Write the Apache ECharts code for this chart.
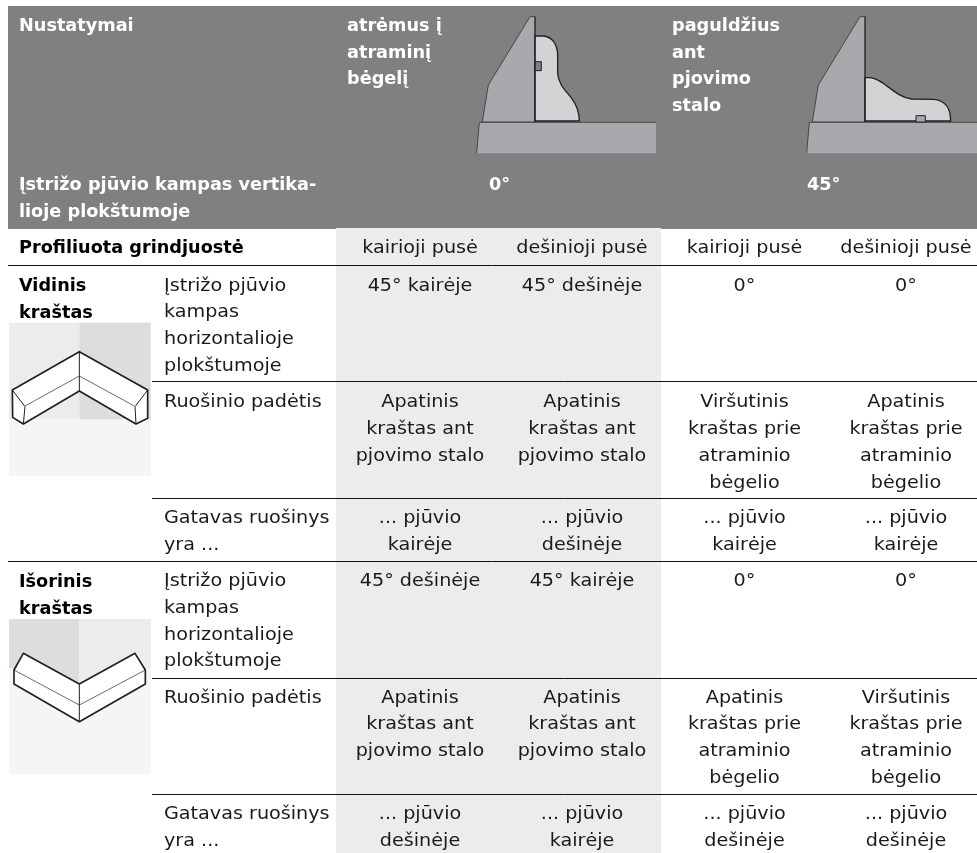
<!DOCTYPE html>
<html><head><meta charset="utf-8">
<style>html,body{margin:0;padding:0;background:#fff}#c{width:977px;height:853px}</style>
<script src="https://cdn.jsdelivr.net/npm/echarts@6/dist/echarts.min.js"></script>
</head><body><div id="c"></div>
<script>
// ---- table content ----
const headerTitle = 'Nustatymai';
const headerAngleLabel = 'Įstrižo pjūvio kampas vertika-\nlioje plokštumoje';
const headerModes = ['atrėmus į\natraminį\nbėgelį', 'paguldžius\nant\npjovimo\nstalo'];
const headerAngles = ['0°', '45°'];
const sideHeading = 'Profiliuota grindjuostė';
const sideNames = ['kairioji pusė', 'dešinioji pusė', 'kairioji pusė', 'dešinioji pusė'];
const edgeNames = ['Vidinis\nkraštas', 'Išorinis\nkraštas'];
const rowNames = ['Įstrižo pjūvio\nkampas\nhorizontalioje\nplokštumoje', 'Ruošinio padėtis', 'Gatavas ruošinys\nyra ...'];
const APT = 'Apatinis\nkraštas ant\npjovimo stalo';
const innerAngle = ['45° kairėje', '45° dešinėje', '0°', '0°'];
const innerPosition = [APT, APT, 'Viršutinis\nkraštas prie\natraminio\nbėgelio', 'Apatinis\nkraštas prie\natraminio\nbėgelio'];
const innerResult = ['... pjūvio\nkairėje', '... pjūvio\ndešinėje', '... pjūvio\nkairėje', '... pjūvio\nkairėje'];
const outerAngle = ['45° dešinėje', '45° kairėje', '0°', '0°'];
const outerPosition = [APT, APT, 'Apatinis\nkraštas prie\natraminio\nbėgelio', 'Viršutinis\nkraštas prie\natraminio\nbėgelio'];
const outerResult = ['... pjūvio\ndešinėje', '... pjūvio\nkairėje', '... pjūvio\ndešinėje', '... pjūvio\ndešinėje'];
const bodyRows = [innerAngle, innerPosition, innerResult, outerAngle, outerPosition, outerResult];

// ---- layout (separate from content) ----
const FONT = '"DejaVu Sans"';
const FS = 18, FSB = 17, SX = 1.065, SXB = 1.04, LH = 26.8, MID = 0.36, NUDGE = 2.5;
const colCenters = [420, 582, 744.5, 906];
const rowBaselines = [290, 406.7, 522.7, 585.3, 702, 818.7];
const ruleSpec = [[8, 265.5], [152, 381.5], [152, 498.5], [8, 561.5], [152, 678.5], [152, 794.5]];
const bandSpec = [
  [8, 6, 977, 229, '#808080'],
  [336, 228, 661, 853, '#ececec'],
  [9, 323, 151, 476, '#f5f5f5'],
  [9, 619, 151, 774, '#f5f5f5']
];

const texts = [];
function addText(str, x, base, align, bold, color) {
  str.split('\n').forEach((line, i) => texts.push({ line, x, y: base + i * LH, align, bold, color }));
}
addText(headerTitle, 19, 30, 'left', true, '#fff');
addText(headerModes[0], 347, 30, 'left', true, '#fff');
addText(headerModes[1], 672, 30, 'left', true, '#fff');
addText(headerAngleLabel, 19, 189, 'left', true, '#fff');
addText(headerAngles[0], 489, 189, 'left', true, '#fff');
addText(headerAngles[1], 807, 189, 'left', true, '#fff');
addText(sideHeading, 19, 252.5, 'left', true, '#000');
sideNames.forEach((s, i) => addText(s, colCenters[i], 252.5, 'center', false, '#1a1a1a'));
addText(edgeNames[0], 19, 290, 'left', true, '#000');
addText(edgeNames[1], 19, 586, 'left', true, '#000');
[0, 1, 2, 0, 1, 2].forEach((n, r) => addText(rowNames[n], 164, rowBaselines[r], 'left', false, '#1a1a1a'));
bodyRows.forEach((row, r) => row.forEach((s, c) => addText(s, colCenters[c], rowBaselines[r], 'center', false, '#1a1a1a')));

// ---- pictures: paths in 3x units around an origin ----
const DK = '#231f20', GR = '#a7a9ac', LT = '#d1d3d4';
const wedge = 'M180 20L195 20L195 336L37 336L55 225Z';
const pictures = [
  { o: [470, 10], parts: [
    [wedge, GR, DK, 2],
    ['M28 337L558 337L558 430L20 430Z', GR, 'none', 0],
    ['M28 337L558 337M28 337L20 430', 'none', DK, 2],
    ['M195 78L215 78C245 78 262 100 263 135L263 190C265 225 290 245 305 265C320 285 328 305 328 333L195 333Z', LT, DK, 4],
    ['M195 155L214 155L214 182L195 182Z', '#808080', DK, 3],
    ['M195 20L195 336', 'none', DK, 3]
  ]},
  { o: [800, 10], parts: [
    [wedge, GR, DK, 2],
    ['M28 337L531 337L531 430L20 430Z', GR, 'none', 0],
    ['M28 337L531 337M28 337L20 430', 'none', DK, 2],
    ['M195 203L210 203C250 205 285 262 335 267L400 268C435 270 452 295 452 333L195 333Z', LT, DK, 4],
    ['M348 317L376 317L376 336L348 336Z', GR, DK, 3],
    ['M195 20L195 336', 'none', DK, 3]
  ]},
  { o: [0, 260], parts: [
    ['M27 188L238 188L238 478L27 478Z', '#ececec', 'none', 0],
    ['M238 188L452 188L452 478L238 478Z', '#dcddde', 'none', 0],
    ['M238 275L37 390L38 472L70 492L238 393L408 492L443 475L443 390Z', '#fff', DK, 5],
    ['M37 390L75 440L70 492M443 390L405 440L408 492M238 275L238 393', 'none', DK, 3],
    ['M75 438L238 348L403 438', 'none', DK, 2]
  ]},
  { o: [0, 520], parts: [
    ['M27 297L238 297L238 492L150 445L27 445Z', '#dcddde', 'none', 0],
    ['M238 297L452 297L452 445L320 445L238 492Z', '#ececec', 'none', 0],
    ['M238 492L70 400L42 450L42 492L238 605L436 492L436 450L405 400Z', '#fff', DK, 5],
    ['M238 492L238 605', 'none', DK, 3],
    ['M42 450L238 555L436 450', 'none', DK, 2]
  ]}
];

const chart = echarts.init(document.getElementById('c'), null, { renderer: 'canvas', width: 977, height: 853 });
chart.setOption({
  animation: false,
  backgroundColor: '#fff',
  grid: { left: 0, right: 0, top: 0, bottom: 0 },
  xAxis: { type: 'value', min: 0, max: 977, show: false },
  yAxis: { type: 'value', min: 0, max: 853, inverse: true, show: false },
  series: [
    { type: 'custom', silent: true, z: 1, clip: false,
      data: bandSpec.map(b => b.slice(0, 4)),
      renderItem(p, api) {
        const a = api.coord([api.value(0), api.value(1)]), b = api.coord([api.value(2), api.value(3)]);
        return { type: 'rect', shape: { x: a[0], y: a[1], width: b[0] - a[0], height: b[1] - a[1] }, style: { fill: bandSpec[p.dataIndex][4] } };
      } },
    { type: 'custom', silent: true, z: 2, clip: false,
      data: ruleSpec,
      renderItem(p, api) {
        const a = api.coord([api.value(0), api.value(1)]);
        const b = api.coord([977, api.value(1)]);
        return { type: 'line', shape: { x1: a[0], y1: a[1], x2: b[0], y2: b[1] }, style: { stroke: '#111', lineWidth: 1 } };
      } },
    { type: 'custom', silent: true, z: 3, clip: false,
      data: pictures.map(d => d.o),
      renderItem(p, api) {
        const o = api.coord([api.value(0), api.value(1)]);
        return { type: 'group', x: o[0], y: o[1], scaleX: 1 / 3, scaleY: 1 / 3,
          children: pictures[p.dataIndex].parts.map(q => ({ type: 'path', shape: { pathData: q[0] },
            style: { fill: q[1], stroke: q[2] === 'none' ? null : q[2], lineWidth: q[3], lineJoin: 'round' } })) };
      } },
    { type: 'custom', silent: true, z: 4, clip: false,
      data: texts.map(t => [t.x, t.y]),
      renderItem(p, api) {
        const t = texts[p.dataIndex];
        const c = api.coord([api.value(0), api.value(1)]);
        const fs = t.bold ? FSB : FS;
        return { type: 'text', x: c[0], y: c[1] - fs * MID + NUDGE, scaleX: t.bold ? SXB : SX,
          style: { text: t.line, fill: t.color, align: t.align, verticalAlign: 'middle',
            font: (t.bold ? 'bold ' : '') + fs + 'px ' + FONT } };
      } }
  ]
});
</script></body></html>
